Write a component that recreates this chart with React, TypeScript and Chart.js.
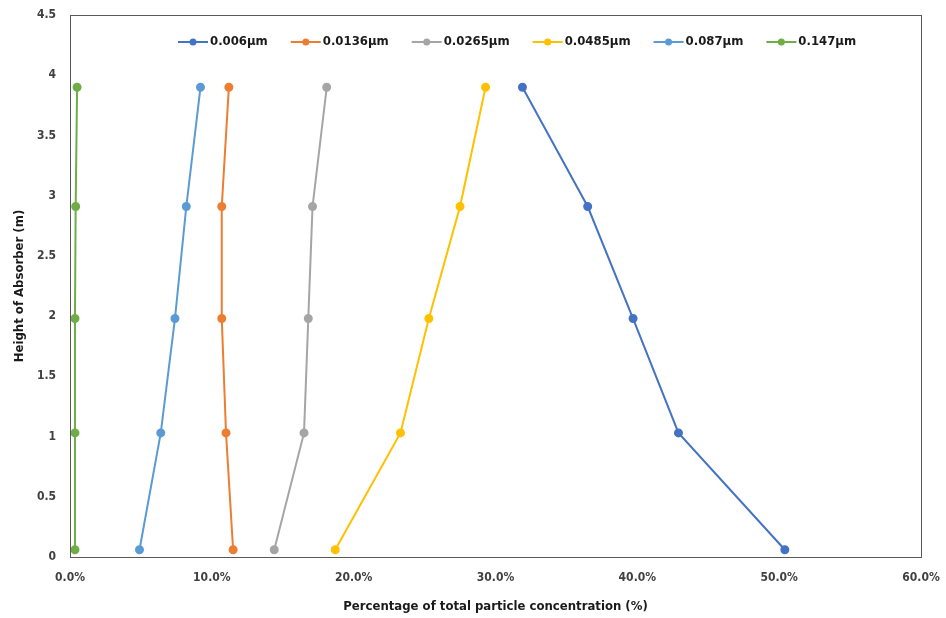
import React, { useEffect, useRef } from "react";
import { Chart, registerables } from "chart.js";

Chart.register(...registerables);

const heights = [0.06, 1.03, 1.98, 2.91, 3.9];
const seriesNames = ["0.006μm", "0.0136μm", "0.0265μm", "0.0485μm", "0.087μm", "0.147μm"];
const s006 = [50.4, 42.9, 39.7, 36.5, 31.9];
const s0136 = [11.5, 11.0, 10.7, 10.7, 11.2];
const s0265 = [14.4, 16.5, 16.8, 17.1, 18.1];
const s0485 = [18.7, 23.3, 25.3, 27.5, 29.3];
const s087 = [4.9, 6.4, 7.4, 8.2, 9.2];
const s147 = [0.35, 0.35, 0.35, 0.4, 0.5];
const seriesColors = ["#4472C4", "#ED7D31", "#A5A5A5", "#FFC000", "#5B9BD5", "#70AD47"];
const xTitle = "Percentage of total particle concentration (%)";
const yTitle = "Height of Absorber (m)";

const FONT = "'DejaVu Sans Condensed', 'Liberation Sans', sans-serif";

const legendPlugin = {
  id: "customLegend",
  afterDraw(chart: any) {
    const ctx = chart.ctx;
    ctx.save();
    ctx.font = `bold 13px ${FONT}`;
    ctx.textBaseline = "middle";
    let x = 178;
    const y = 42;
    chart.data.datasets.forEach((ds: any) => {
      ctx.strokeStyle = ds.borderColor;
      ctx.lineWidth = 2;
      ctx.beginPath();
      ctx.moveTo(x, y);
      ctx.lineTo(x + 30, y);
      ctx.stroke();
      ctx.fillStyle = ds.borderColor;
      ctx.beginPath();
      ctx.arc(x + 15, y, 3.5, 0, Math.PI * 2);
      ctx.fill();
      ctx.fillStyle = "#1a1a1a";
      ctx.textAlign = "left";
      ctx.fillText(ds.label, x + 32, y);
      x += 32 + ctx.measureText(ds.label).width + 23;
    });
    ctx.restore();
  },
};

const borderPlugin = {
  id: "plotBorder",
  afterDatasetsDraw(chart: any) {
    const { ctx, chartArea } = chart;
    ctx.save();
    ctx.strokeStyle = "#595959";
    ctx.lineWidth = 1;
    ctx.strokeRect(chartArea.left + 0.5, chartArea.top + 0.5, chartArea.right - chartArea.left, chartArea.bottom - chartArea.top);
    ctx.restore();
  },
};

export default function App() {
  const ref = useRef<HTMLCanvasElement>(null);
  useEffect(() => {
    document.body.style.margin = "0";
    const all = [s006, s0136, s0265, s0485, s087, s147];
    const chart = new Chart(ref.current!, {
      type: "scatter",
      data: {
        datasets: all.map((arr, i) => ({
          label: seriesNames[i],
          data: arr.map((v, j) => ({ x: v, y: heights[j] })),
          showLine: true,
          borderColor: seriesColors[i],
          backgroundColor: seriesColors[i],
          borderWidth: 2,
          pointRadius: 3.5,
          pointHoverRadius: 3.5,
        })),
      },
      options: {
        responsive: false,
        animation: false,
        layout: { padding: { top: 15, right: 25, left: 0, bottom: 0 } },
        plugins: { legend: { display: false }, tooltip: { enabled: false } },
        scales: {
          x: {
            type: "linear",
            min: 0,
            max: 60,
            afterFit: (s: any) => { s.height = 61; s.paddingRight = 0; s.paddingLeft = 0; },
            border: { display: false },
            grid: { display: false, drawTicks: false },
            ticks: {
              stepSize: 10,
              padding: 14,
              color: "#404040",
              font: { family: FONT, size: 12, weight: "bold" },
              callback: (v: any) => Number(v).toFixed(1) + "%",
            },
            title: {
              display: true,
              text: xTitle,
              color: "#1a1a1a",
              font: { family: FONT, size: 13, weight: "bold" },
              padding: { top: 0, bottom: 4 },
            },
          },
          y: {
            type: "linear",
            min: 0,
            max: 4.5,
            afterFit: (s: any) => { s.width = 70; s.paddingTop = 0; s.paddingBottom = 0; },
            border: { display: false },
            grid: { display: false, drawTicks: false },
            ticks: {
              stepSize: 0.5,
              padding: 14,
              color: "#404040",
              font: { family: FONT, size: 12, weight: "bold" },
              callback: (v: any) => String(Number(v)),
            },
            title: {
              display: true,
              text: yTitle,
              color: "#1a1a1a",
              font: { family: FONT, size: 13, weight: "bold" },
              padding: { top: 12, bottom: 0 },
            },
          },
        },
      },
      plugins: [legendPlugin, borderPlugin],
    } as any);
    return () => chart.destroy();
  }, []);
  return <canvas ref={ref} width={946} height={618} style={{ display: "block" }} />;
}
